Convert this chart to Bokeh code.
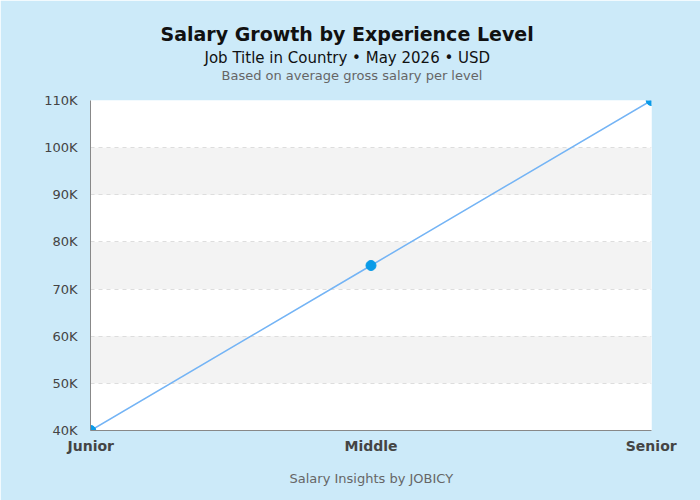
from bokeh.plotting import figure
from bokeh.models import FactorRange, Range1d, Title, CustomJSTickFormatter, SingleIntervalTicker
from bokeh.embed import file_html
from bokeh.resources import INLINE

levels = ["Junior", "Middle", "Senior"]
salaries = [40000, 75000, 110000]

BG = "#cceaf9"
FONT = "DejaVu Sans"

p = figure(width=700, height=500,
           x_range=FactorRange(factors=levels, range_padding=-0.499, range_padding_units="absolute"),
           y_range=Range1d(40000, 110000), output_backend="svg", toolbar_location=None,
           min_border_left=90, min_border_right=49, min_border_top=100, min_border_bottom=70)
p.border_fill_color = BG
p.background_fill_color = "white"
p.outline_line_color = None

p.line(levels, salaries, line_color="#74b4f5", line_width=1.5)
p.scatter(levels, salaries, size=10, fill_color="#0a9be8", line_color="#0a9be8")

p.yaxis.ticker = SingleIntervalTicker(interval=10000)
p.yaxis.formatter = CustomJSTickFormatter(code="return (tick / 1000) + 'K';")
p.yaxis.major_label_text_font = FONT
p.yaxis.major_label_text_font_size = "13px"
p.yaxis.major_label_text_color = "#444444"
p.yaxis.major_label_standoff = 9
p.xaxis.major_label_text_font = FONT
p.xaxis.major_label_text_font_size = "14px"
p.xaxis.major_label_text_font_style = "bold"
p.xaxis.major_label_text_color = "#444444"
p.xaxis.major_label_standoff = 7
for ax in (p.xaxis, p.yaxis):
    ax.axis_line_color = "#888888"
    ax.major_tick_line_color = None
    ax.minor_tick_line_color = None
    ax.major_tick_out = 0
    ax.major_tick_in = 0

p.xgrid.grid_line_color = None
p.ygrid.grid_line_color = "#dddddd"
p.ygrid.grid_line_dash = "4 4"
p.ygrid.band_fill_color = "#f3f3f3"
p.ygrid.band_fill_alpha = 1

# header, nearest to the frame first (the first entry is an empty spacer)
header = [
    (" ", "13px", "normal", "#666666", 0, 1),
    ("Based on average gross salary per level", "13px", "normal", "#666666", 131, 0),
    ("Job Title in Country • May 2026 • USD", "15px", "normal", "#111111", 114, -2),
    ("Salary Growth by Experience Level", "19px", "bold", "#111111", 70, 5),
]
for txt, size, style, color, offset, standoff in header:
    p.add_layout(Title(text=txt, align="left", offset=offset, standoff=standoff,
                       text_font=FONT, text_font_size=size, text_font_style=style,
                       text_color=color), "above")
p.add_layout(Title(text="Salary Insights by JOBICY", align="left", offset=199, standoff=24,
                   text_font=FONT, text_font_size="13px", text_font_style="normal",
                   text_color="#666666"), "below")

html = file_html(p, INLINE)
html = html.replace("<body>", '<body style="background:%s">' % BG, 1)
open("out.html", "w").write(html)
